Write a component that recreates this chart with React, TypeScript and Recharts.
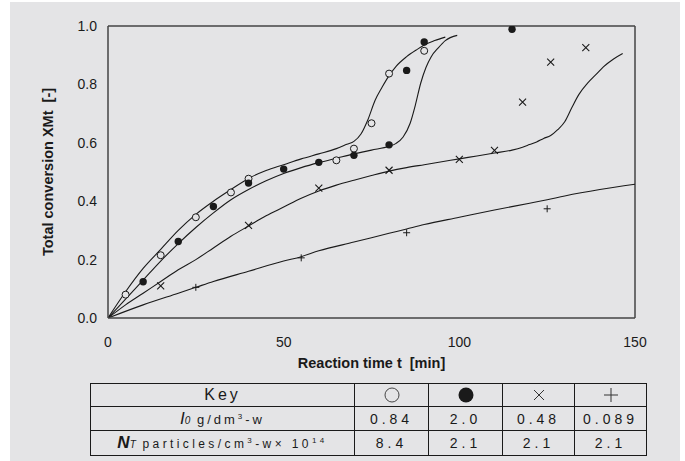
import { ComposedChart, Line, Scatter, XAxis, YAxis, ReferenceLine } from 'recharts'

// fitted curves (reaction time t [min] vs total conversion XMt)
const curveOpenT = [0, 5, 10, 15, 20, 25, 30, 35, 40, 45, 50, 55, 60, 65, 68, 70, 72, 74, 76, 78, 80, 82, 85, 88, 90, 93, 96]
const curveOpenX = [0, 0.09, 0.17, 0.235, 0.3, 0.355, 0.4, 0.44, 0.478, 0.505, 0.525, 0.545, 0.562, 0.58, 0.595, 0.605, 0.63, 0.68, 0.745, 0.79, 0.83, 0.862, 0.895, 0.92, 0.935, 0.95, 0.962]

const curveFilledT = [0, 5, 10, 15, 20, 25, 30, 35, 40, 45, 50, 55, 60, 65, 70, 75, 80, 82, 84, 86, 87.5, 89, 90.5, 92, 94, 96, 99.4]
const curveFilledX = [0, 0.065, 0.13, 0.195, 0.255, 0.31, 0.36, 0.405, 0.44, 0.47, 0.495, 0.515, 0.532, 0.547, 0.562, 0.575, 0.588, 0.598, 0.62, 0.667, 0.73, 0.804, 0.858, 0.895, 0.925, 0.95, 0.968]

const curveCrossT = [0, 5, 10, 15, 20, 25, 30, 35, 40, 45, 50, 55, 60, 65, 70, 75, 80, 85, 90, 95, 100, 105, 110, 115, 118, 120, 122, 124, 126, 128, 130, 132, 134, 136.5, 139, 141, 144, 146.5]
const curveCrossX = [0, 0.045, 0.085, 0.125, 0.165, 0.2, 0.24, 0.28, 0.315, 0.35, 0.38, 0.41, 0.435, 0.455, 0.472, 0.488, 0.503, 0.515, 0.525, 0.535, 0.545, 0.555, 0.565, 0.575, 0.585, 0.594, 0.603, 0.615, 0.625, 0.645, 0.672, 0.72, 0.765, 0.804, 0.835, 0.86, 0.888, 0.906]

const curvePlusT = [0, 10, 20, 25, 30, 40, 50, 55, 60, 70, 80, 85, 90, 100, 110, 120, 125, 130, 140, 150]
const curvePlusX = [0, 0.045, 0.085, 0.105, 0.125, 0.16, 0.195, 0.21, 0.23, 0.26, 0.29, 0.305, 0.32, 0.345, 0.37, 0.393, 0.405, 0.418, 0.44, 0.458]

// measured points
const openT = [5, 15, 25, 35, 40, 65, 70, 75, 80, 90]
const openX = [0.08, 0.215, 0.345, 0.43, 0.477, 0.54, 0.58, 0.667, 0.837, 0.915]
const filledT = [10, 20, 30, 40, 50, 60, 70, 80, 85, 90, 115]
const filledX = [0.124, 0.262, 0.382, 0.462, 0.51, 0.533, 0.557, 0.593, 0.848, 0.945, 0.989]
const crossT = [15, 40, 60, 80, 100, 110, 118, 126, 136]
const crossX = [0.11, 0.317, 0.445, 0.506, 0.543, 0.574, 0.739, 0.876, 0.926]
const plusT = [25, 55, 85, 125]
const plusX = [0.105, 0.206, 0.292, 0.374]

const xTicks = [0, 50, 100, 150]
const yTicks = [0, 0.2, 0.4, 0.6, 0.8, 1.0]

// table
const keySymbols = ['open', 'filled', 'cross', 'plus']
const i0Values = ['0.84', '2.0', '0.48', '0.089']
const ntValues = ['8.4', '2.1', '2.1', '2.1']

const BG = '#e4e4e6'
const INK = '#1a1a1a'
const FONT = '"Liberation Sans", Arial, sans-serif'

const rows = (t: number[], x: number[]) => t.map((v, i) => ({ t: v, x: x[i] }))

const OpenDot = (p: any) => <circle cx={p.cx} cy={p.cy} r={3.5} fill={BG} stroke={INK} strokeWidth={1} />
const FilledDot = (p: any) => <circle cx={p.cx} cy={p.cy} r={3.7} fill={INK} />
const CrossDot = (p: any) => (
  <path d={`M${p.cx - 3.5},${p.cy - 3.5}L${p.cx + 3.5},${p.cy + 3.5}M${p.cx - 3.5},${p.cy + 3.5}L${p.cx + 3.5},${p.cy - 3.5}`} stroke={INK} strokeWidth={1.1} />
)
const PlusDot = (p: any) => (
  <path d={`M${p.cx - 3.5},${p.cy}L${p.cx + 3.5},${p.cy}M${p.cx},${p.cy - 3.5}L${p.cx},${p.cy + 3.5}`} stroke={INK} strokeWidth={1} />
)

function KeySymbol({ kind }: { kind: string }) {
  return (
    <svg width={18} height={18} viewBox="0 0 18 18" style={{ display: 'block', margin: '0 auto' }}>
      {kind === 'open' && <circle cx={9} cy={9} r={7} fill="none" stroke="#333" strokeWidth={0.9} />}
      {kind === 'filled' && <circle cx={9} cy={9} r={7.5} fill={INK} />}
      {kind === 'cross' && <path d="M4,4L14,14M4,14L14,4" stroke="#333" strokeWidth={1} />}
      {kind === 'plus' && <path d="M2,9L16,9M9,2L9,16" stroke="#333" strokeWidth={1} />}
    </svg>
  )
}

const cell: React.CSSProperties = {
  border: `1.5px solid ${INK}`,
  padding: 0,
  textAlign: 'center',
  verticalAlign: 'middle',
  fontSize: 14,
  letterSpacing: 4,
  color: INK,
}

const axisTitle = { fontSize: 14.5, fontWeight: 700, fill: INK, fontFamily: FONT }

export default function App() {
  return (
    <div style={{ position: 'fixed', left: 0, top: 0, width: 685, height: 461, background: '#fff', fontFamily: FONT }}>
      <div style={{ position: 'absolute', left: 10, top: 2, width: 670, height: 459, background: BG }} />
      <div style={{ position: 'absolute', left: 0, top: 0 }}>
        <ComposedChart width={685} height={380} margin={{ top: 26, right: 50, left: 30, bottom: 12 }}>
          <XAxis
            type="number"
            dataKey="t"
            domain={[0, 150]}
            ticks={xTicks}
            allowDataOverflow
            tickLine={false}
            tickSize={6}
            tickMargin={13}
            height={50}
            axisLine={{ stroke: '#444', strokeWidth: 1.5 }}
            tick={{ fontSize: 14, fill: INK, fontFamily: FONT }}
            label={{ value: 'Reaction time t\u00a0\u00a0[min]', position: 'insideBottom', offset: 0, style: axisTitle }}
          />
          <YAxis
            type="number"
            domain={[0, 1]}
            ticks={yTicks}
            allowDataOverflow
            width={78}
            tickLine={false}
            tickSize={6}
            tickMargin={5}
            axisLine={{ stroke: '#444', strokeWidth: 1.5 }}
            tickFormatter={(v: number) => v.toFixed(1)}
            tick={{ fontSize: 14, fill: INK, fontFamily: FONT }}
            label={{ value: 'Total conversion XMt\u00a0\u00a0[-]', angle: -90, position: 'insideLeft', offset: 18, style: { ...axisTitle, textAnchor: 'middle' } }}
          />
          <ReferenceLine y={1} stroke="#444" strokeWidth={1.5} />
          <ReferenceLine x={150} stroke="#444" strokeWidth={1.5} />

          <Line data={rows(curveOpenT, curveOpenX)} dataKey="x" type="monotone" stroke={INK} strokeWidth={1.1} dot={false} isAnimationActive={false} />
          <Line data={rows(curveFilledT, curveFilledX)} dataKey="x" type="monotone" stroke={INK} strokeWidth={1.1} dot={false} isAnimationActive={false} />
          <Line data={rows(curveCrossT, curveCrossX)} dataKey="x" type="monotone" stroke={INK} strokeWidth={1.1} dot={false} isAnimationActive={false} />
          <Line data={rows(curvePlusT, curvePlusX)} dataKey="x" type="monotone" stroke={INK} strokeWidth={1.1} dot={false} isAnimationActive={false} />

          <Scatter data={rows(openT, openX)} dataKey="x" shape={OpenDot} isAnimationActive={false} />
          <Scatter data={rows(filledT, filledX)} dataKey="x" shape={FilledDot} isAnimationActive={false} />
          <Scatter data={rows(crossT, crossX)} dataKey="x" shape={CrossDot} isAnimationActive={false} />
          <Scatter data={rows(plusT, plusX)} dataKey="x" shape={PlusDot} isAnimationActive={false} />
        </ComposedChart>
      </div>

      <table style={{ position: 'absolute', left: 90, top: 383, borderCollapse: 'collapse', fontFamily: FONT, tableLayout: 'fixed' }}>
        <colgroup>
          <col style={{ width: 264 }} />
          <col style={{ width: 74 }} />
          <col style={{ width: 74 }} />
          <col style={{ width: 72 }} />
          <col style={{ width: 72 }} />
        </colgroup>
        <tbody>
          <tr style={{ height: 23 }}>
            <td style={{ ...cell, fontSize: 16, letterSpacing: 3 }}>Key</td>
            {keySymbols.map((s, i) => (
              <td key={i} style={cell}><KeySymbol kind={s} /></td>
            ))}
          </tr>
          <tr style={{ height: 24 }}>
            <td style={{ ...cell, fontSize: 13, letterSpacing: 3 }}>
              <i style={{ fontSize: 17, letterSpacing: 0 }}>I</i>
              <i style={{ fontSize: 10, letterSpacing: 0 }}>0</i> g/dm<sup style={{ fontSize: 8 }}>3</sup>-w
            </td>
            {i0Values.map((v, i) => (
              <td key={i} style={cell}>{v}</td>
            ))}
          </tr>
          <tr style={{ height: 25 }}>
            <td style={{ ...cell, fontSize: 12, letterSpacing: 3.4 }}>
              <b><i style={{ fontSize: 17, letterSpacing: 0 }}>N</i></b>
              <i style={{ fontSize: 10, letterSpacing: 0 }}>T</i> particles/cm<sup style={{ fontSize: 8 }}>3</sup>-w× 10<sup style={{ fontSize: 8 }}>14</sup>
            </td>
            {ntValues.map((v, i) => (
              <td key={i} style={cell}>{v}</td>
            ))}
          </tr>
        </tbody>
      </table>
    </div>
  )
}
